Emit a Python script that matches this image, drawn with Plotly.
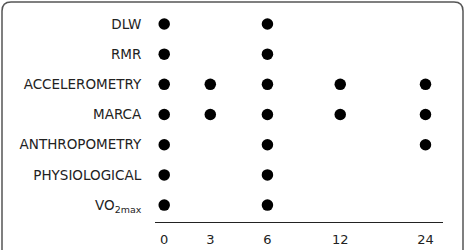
import plotly.graph_objects as go

# ---- data ----
measures = ["DLW", "RMR", "ACCELEROMETRY", "MARCA", "ANTHROPOMETRY",
            "PHYSIOLOGICAL", "VO<sub>2max</sub>"]
months = [0, 3, 6, 12, 24]
# months at which each measure was collected
schedule = {
    "DLW": [0, 6],
    "RMR": [0, 6],
    "ACCELEROMETRY": [0, 3, 6, 12, 24],
    "MARCA": [0, 3, 6, 12, 24],
    "ANTHROPOMETRY": [0, 6, 24],
    "PHYSIOLOGICAL": [0, 6],
    "VO<sub>2max</sub>": [0, 6],
}

# ---- layout: column slot for each time point (unequal spacing as in original) ----
col_slot = {0: 0.0, 3: 1.0, 6: 2.24, 12: 3.82, 24: 5.67}

xs, ys = [], []
for m in measures:
    for t in schedule[m]:
        xs.append(col_slot[t])
        ys.append(m)

FONT = "DejaVu Sans"
fig = go.Figure(go.Scatter(
    x=xs, y=ys, mode="markers",
    marker=dict(size=11.5, color="#000000"),
    hoverinfo="skip",
))

W, H = 469, 250
pl, pr, pt, pb = 155, 26, 8, 28

fig.update_layout(
    width=W, height=H,
    margin=dict(l=pl, r=pr, t=pt, b=pb),
    paper_bgcolor="white", plot_bgcolor="white",
    showlegend=False,
    font=dict(family=FONT, size=13, color="#222222"),
    xaxis=dict(
        range=[-0.2, 6.05],
        tickvals=[col_slot[m] for m in months],
        ticktext=[str(m) for m in months],
        showgrid=False, zeroline=False,
        showline=True, linecolor="#222222", linewidth=1,
        ticks="outside", ticklen=5, tickcolor="rgba(0,0,0,0)",
        tickfont=dict(family=FONT, size=13, color="#222222"),
        automargin=False,
        fixedrange=True,
    ),
    yaxis=dict(
        type="category",
        categoryorder="array", categoryarray=measures,
        range=[6.56, -0.53],
        showgrid=False, zeroline=False, showline=False,
        ticks="outside", ticklen=10, tickcolor="rgba(0,0,0,0)",
        tickfont=dict(family=FONT, size=13.5, color="#222222"),
        automargin=False,
        fixedrange=True,
    ),
)

# rounded border around the panel (pixel -> paper conversion)
pw, ph = W - pl - pr, H - pt - pb
def px(x): return (x - pl) / pw
def py(y): return 1 - (y - pt) / ph
x0, x1, y0, y1, r = 2, 463, 2, 270, 9
path = (f"M {px(x0)},{py(y1)} L {px(x0)},{py(y0+r)} "
        f"Q {px(x0)},{py(y0)} {px(x0+r)},{py(y0)} "
        f"L {px(x1-r)},{py(y0)} Q {px(x1)},{py(y0)} {px(x1)},{py(y0+r)} "
        f"L {px(x1)},{py(y1)}")
fig.layout.shapes = [dict(type="path", xref="paper", yref="paper", path=path,
                          line=dict(color="#555555", width=1.5))]

fig.write_html("out.html")
